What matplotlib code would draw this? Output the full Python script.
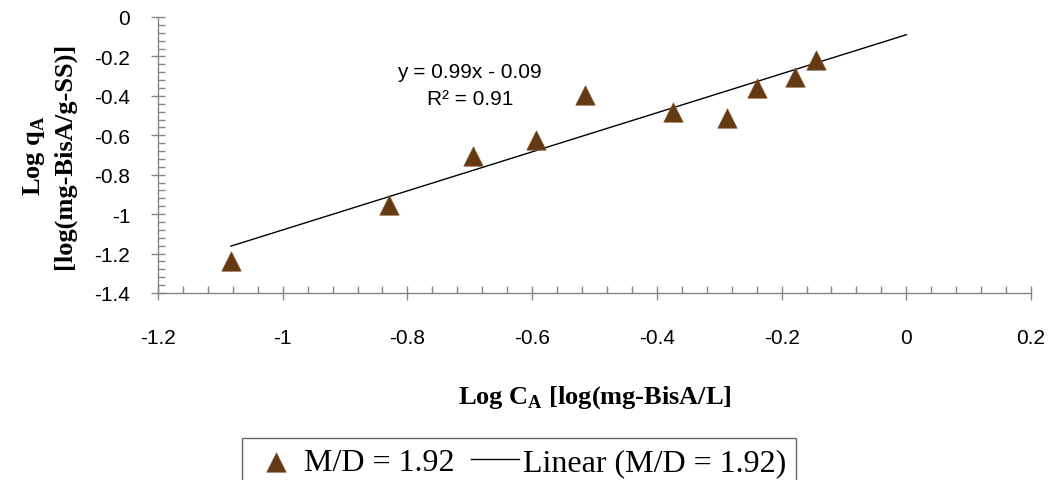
import numpy as np
import matplotlib
matplotlib.use("Agg")
import matplotlib.pyplot as plt
from matplotlib.ticker import MultipleLocator

# values
log_ca = [-1.083, -0.830, -0.695, -0.594, -0.515, -0.374, -0.287, -0.240, -0.178, -0.145]
log_qa = [-1.237, -0.955, -0.707, -0.626, -0.396, -0.480, -0.510, -0.359, -0.303, -0.217]
slope = 0.99
intercept = -0.09
r_squared = 0.91
series_label = "M/D = 1.92"
trend_label = "Linear (M/D = 1.92)"

x_ticks = [-1.2, -1.0, -0.8, -0.6, -0.4, -0.2, 0.0, 0.2]
x_tick_labels = ["-1.2", "-1", "-0.8", "-0.6", "-0.4", "-0.2", "0", "0.2"]
y_ticks = [0.0, -0.2, -0.4, -0.6, -0.8, -1.0, -1.2, -1.4]
y_tick_labels = ["0", "-0.2", "-0.4", "-0.6", "-0.8", "-1", "-1.2", "-1.4"]

W, H = 1054, 481
fig = plt.figure(figsize=(W / 100, H / 100), dpi=100)
ax = fig.add_axes([158 / W, 1 - 294 / H, (1031 - 158) / W, (294 - 18) / H])

axis_grey = "#868686"
brown = "#633a14"

ax.scatter(log_ca, log_qa, marker="^", s=14 ** 2, color=brown,
           edgecolors="#8a5a30", linewidths=0.5, label=series_label, zorder=3)

trend_x = np.array([min(log_ca), 0.0])
ax.plot(trend_x, slope * trend_x + intercept, color="black", lw=1.0,
        label=trend_label, zorder=2)

sign = "-" if intercept < 0 else "+"
ax.text(-0.70, -0.345, f"y = {slope:.2f}x {sign} {abs(intercept):.2f}\nR² = {r_squared:.2f}",
        ha="center", va="center", fontsize=15, linespacing=1.55,
        family="Liberation Sans")

ax.set_xlim(-1.2, 0.2)
ax.set_ylim(-1.4, 0)
ax.set_xticks(x_ticks)
ax.set_xticklabels(x_tick_labels, family="Liberation Sans")
ax.set_yticks(y_ticks)
ax.set_yticklabels(y_tick_labels, family="Liberation Sans")
ax.xaxis.set_minor_locator(MultipleLocator(0.04))
ax.yaxis.set_minor_locator(MultipleLocator(0.04))

ax.tick_params(which="major", direction="inout", length=10, width=1,
               color=axis_grey, labelsize=15, labelcolor="black")
ax.tick_params(axis="x", which="major", pad=20)
ax.tick_params(axis="y", which="major", pad=15)
ax.tick_params(which="minor", direction="in", length=5, width=1, color=axis_grey)

for side in ["top", "right"]:
    ax.spines[side].set_visible(False)
for side in ["left", "bottom"]:
    ax.spines[side].set_color(axis_grey)
    ax.spines[side].set_linewidth(1)

label_font = dict(family="Liberation Serif", weight="bold", size=19)
ax.set_xlabel(r"Log C$_\mathregular{A}$ [log(mg-BisA/L]", **label_font)
ax.xaxis.set_label_coords(0.5, -0.325)
ax.set_ylabel("Log q$_\\mathregular{A}$\n[log(mg-BisA/g-SS)]", linespacing=1.3,
              **label_font)
ax.yaxis.set_label_coords(-0.094, 0.5)

leg = ax.legend(loc="upper left", bbox_to_anchor=(242 / W, 1 - 439 / H),
                bbox_transform=fig.transFigure, borderaxespad=0, ncol=2,
                prop=dict(family="Liberation Serif", size=23),
                frameon=True, fancybox=False, handlelength=1.5,
                handletextpad=0.15, columnspacing=0.5, borderpad=0.3,
                scatterpoints=1)
leg.get_frame().set_edgecolor("#404040")
leg.get_frame().set_linewidth(1)

fig.savefig("out.png", dpi=100)
